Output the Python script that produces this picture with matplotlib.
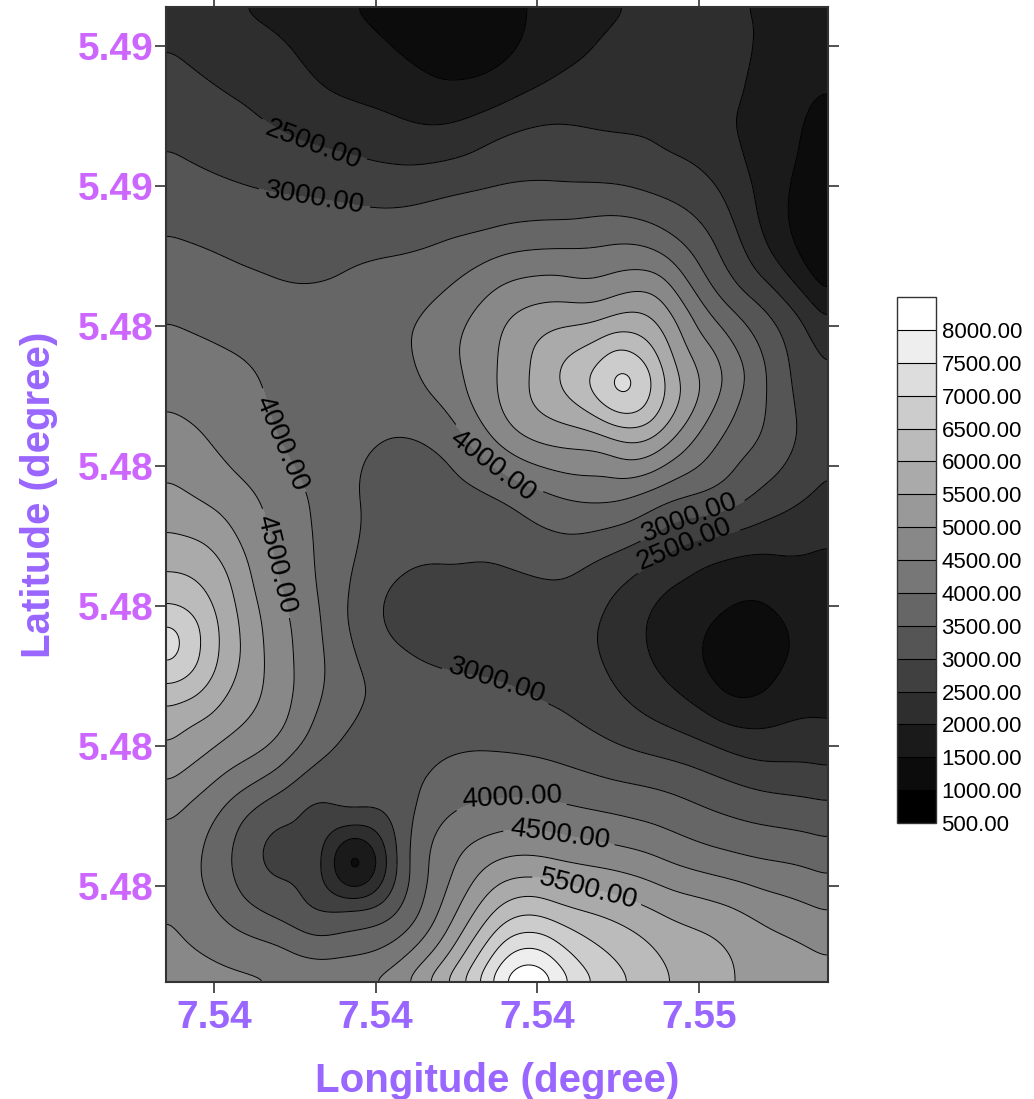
import numpy as np
import matplotlib
matplotlib.use("Agg")
import matplotlib.pyplot as plt
import matplotlib.tri as mtri
from matplotlib.ticker import FormatStrFormatter

plt.rcParams["font.family"] = ["Liberation Sans", "DejaVu Sans"]

# ── DATA ──────────────────────────────────────────────────────────────────────

# grid columns (longitude) and rows (latitude, top row first)
lon = [7.53711, 7.53813, 7.53916, 7.54018, 7.54121, 7.54223, 7.54325,
       7.54428, 7.54530, 7.54632, 7.54735, 7.54837, 7.54939]
lat = [5.48856, 5.48769, 5.48682, 5.48594, 5.48507, 5.48420, 5.48333,
       5.48246, 5.48159, 5.48072, 5.47985, 5.47898, 5.47811, 5.47724,
       5.47637, 5.47550, 5.47463]

# values, one row per latitude
value_grid = [
    [2300, 2100, 1800, 1580, 1350, 1150, 1300, 1650, 1900, 2150, 2100, 1900, 1650],
    [2600, 2400, 2200, 1850, 1650, 1400, 1500, 1900, 2150, 2300, 2250, 1800, 1600],
    [2900, 2700, 2500, 2300, 2150, 2050, 2350, 2550, 2480, 2420, 2150, 1700, 1300],
    [3250, 3100, 2980, 2900, 2800, 2900, 3050, 3100, 3100, 2900, 2520, 1700, 1150],
    [3600, 3480, 3380, 3380, 3450, 3600, 3900, 4050, 4100, 3950, 3000, 1950, 850],
    [3950, 3800, 3650, 3600, 3800, 4150, 4800, 5200, 5350, 5200, 3800, 2900, 1800],
    [4300, 4150, 3900, 3700, 3750, 4250, 5000, 5900, 6900, 6050, 4600, 3350, 2480],
    [4650, 4400, 4000, 3700, 3520, 3700, 4650, 5250, 5600, 5400, 4100, 3350, 2450],
    [5150, 4800, 4300, 3750, 3350, 3300, 3550, 4000, 4150, 3750, 3350, 2800, 2400],
    [5800, 5450, 4450, 3800, 3200, 3050, 3050, 3250, 3000, 2500, 2100, 1980, 1900],
    [6850, 5900, 4700, 3800, 2950, 2800, 2750, 2700, 2450, 1850, 1500, 1450, 1600],
    [6700, 5800, 4800, 3900, 3300, 3050, 2980, 2800, 2520, 2000, 1400, 1450, 1750],
    [5600, 5050, 4500, 3600, 3250, 3350, 3400, 3270, 2990, 2700, 2330, 2150, 2150],
    [4800, 4150, 3400, 3050, 3150, 3800, 4000, 3970, 3800, 3620, 3330, 3100, 2960],
    [4300, 3700, 2900, 2100, 2500, 4250, 5000, 5030, 4820, 4520, 4200, 3990, 3780],
    [4550, 4050, 3550, 3200, 3500, 4700, 6300, 6520, 6050, 5600, 5300, 4900, 4600],
    [4750, 4700, 4560, 4450, 4700, 5950, 7800, 8100, 6800, 6100, 5600, 5350, 5200],
]

# extra readings at the centres of highs and lows (and round the trough)
extra_lon = [7.54058, 7.53718, 7.54373, 7.54785, 7.54563, 7.54058, 7.54058]
extra_lat = [5.47633, 5.47944, 5.47469, 5.47923, 5.48311, 5.47687, 5.47580]
extra_val = [1250, 7220, 8400, 1100, 7150, 2500, 2550]

levels = list(range(500, 8501, 500))
band_colors = ["#000000", "#0c0c0c", "#1a1a1a", "#2e2e2e", "#404040", "#555555",
               "#666666", "#777777", "#888888", "#999999", "#aaaaaa", "#bbbbbb",
               "#cccccc", "#dddddd", "#eeeeee", "#ffffff"]

x_ticks = [7.538, 7.541, 7.544, 7.547]
y_ticks = [5.476, 5.478, 5.480, 5.482, 5.484, 5.486, 5.488]

# where the contour labels sit
label_spots = [
    (7.53987, 5.48666), (7.53987, 5.48580), (7.53919, 5.48230),
    (7.53908, 5.48059), (7.54325, 5.48209), (7.54680, 5.48137),
    (7.54675, 5.48083), (7.54327, 5.47897), (7.54353, 5.47720),
    (7.54442, 5.47671), (7.54498, 5.47607),
]

# ── FIELD ─────────────────────────────────────────────────────────────────────

LON, LAT = np.meshgrid(lon, lat)
px = np.concatenate([LON.ravel(), extra_lon])
py = np.concatenate([LAT.ravel(), extra_lat])
pz = np.concatenate([np.array(value_grid, dtype=float).ravel(), extra_val])

tri = mtri.Triangulation(px, py)
interp = mtri.CubicTriInterpolator(tri, pz, kind="min_E")

# evaluate on a fine regular grid, a hair inside the hull
gx = np.linspace(lon[0] + 1e-9, lon[-1] - 1e-9, 331)
gy = np.linspace(lat[-1] + 1e-9, lat[0] - 1e-9, 488)
GX, GY = np.meshgrid(gx, gy)
gz = np.asarray(interp(GX, GY).filled(np.nan))
gz = np.where(np.isnan(gz), np.nanmean(gz), gz)


def soften(a, sigma):
    # light gaussian pass so the contours come out smooth like a gridded map
    r = int(3 * sigma)
    k = np.exp(-0.5 * (np.arange(-r, r + 1) / sigma) ** 2)
    k /= k.sum()
    a = np.pad(a, r, mode="reflect")
    a = np.apply_along_axis(lambda v: np.convolve(v, k, mode="valid"), 0, a)
    a = np.apply_along_axis(lambda v: np.convolve(v, k, mode="valid"), 1, a)
    return a


gz = np.clip(soften(gz, 4.5), 505, 8495)

# ── PLOT ──────────────────────────────────────────────────────────────────────

fig = plt.figure(figsize=(10.34, 10.99), dpi=100)
ax = fig.add_axes([0.1605, 0.1065, 0.6402, 0.8871])

cf = ax.contourf(GX, GY, gz, levels=levels, colors=band_colors)
cs = ax.contour(GX, GY, gz, levels=levels[1:-1], colors="k", linewidths=0.7)
ax.clabel(cs, fmt="%.2f", fontsize=20, manual=label_spots, inline=True,
          inline_spacing=6)

ax.set_xlim(lon[0], lon[-1])
ax.set_ylim(lat[-1], lat[0])

ax.set_xticks(x_ticks)
ax.set_yticks(y_ticks)
ax.xaxis.set_major_formatter(FormatStrFormatter("%.2f"))
ax.yaxis.set_major_formatter(FormatStrFormatter("%.2f"))
ax.tick_params(direction="out", length=8, width=1.2, color="#333333",
               top=True, right=True, labeltop=False, labelright=False)
ax.tick_params(axis="x", pad=5, labelsize=28, labelcolor="#9966FF")
ax.tick_params(axis="y", pad=1, labelsize=28, labelcolor="#CC66FF")
for lab in ax.get_xticklabels() + ax.get_yticklabels():
    lab.set_fontweight("bold")

for sp in ax.spines.values():
    sp.set_color("#333333")
    sp.set_linewidth(1.5)

ax.set_xlabel("Longitude (degree)", fontsize=29, fontweight="bold",
              color="#9966FF", labelpad=19)
ax.set_ylabel("Latitude (degree)", fontsize=29, fontweight="bold",
              color="#9966FF", labelpad=14)

cax = fig.add_axes([0.8675, 0.2511, 0.0377, 0.4786])
cb = fig.colorbar(cf, cax=cax, ticks=levels[:-1], format="%.2f", drawedges=True)
cb.ax.tick_params(length=0, labelsize=16, pad=4)
cb.outline.set_linewidth(1.0)
cb.outline.set_edgecolor("#333333")
cb.dividers.set_linewidth(0.8)

fig.savefig("out.png", dpi=100, facecolor="white")
